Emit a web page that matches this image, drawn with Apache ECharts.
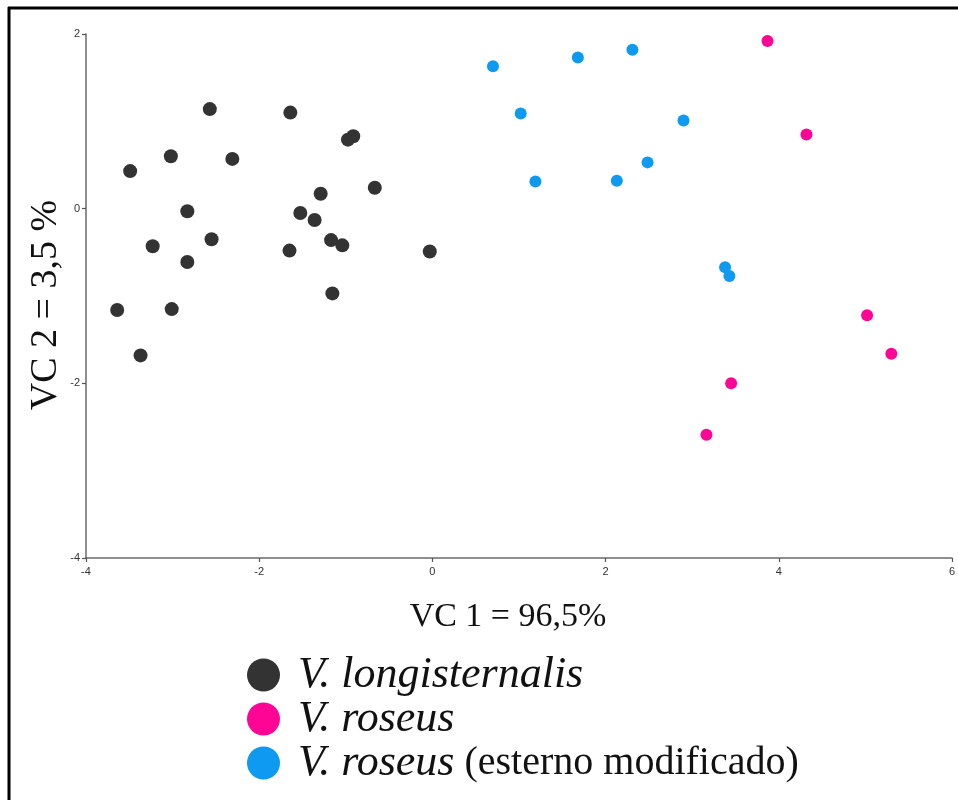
<!DOCTYPE html>
<html>
<head>
<meta charset="utf-8">
<script src="https://cdn.jsdelivr.net/npm/echarts@6/dist/echarts.min.js"></script>
<style>
  html, body { margin: 0; padding: 0; background: #fff; }
  #chart { width: 958px; height: 800px; }
</style>
</head>
<body>
<div id="chart"></div>
<script>
// PCA scores: [VC 1, VC 2] for each specimen
const longisternalis = [
  [-2.57, 1.14], [-1.64, 1.10], [-0.975, 0.79], [-0.914, 0.83], [-3.02, 0.60],
  [-2.31, 0.57], [-3.49, 0.43], [-0.665, 0.24], [-1.29, 0.17], [-2.83, -0.03],
  [-1.525, -0.05], [-1.36, -0.13], [-2.55, -0.35], [-1.17, -0.36], [-1.04, -0.42],
  [-3.23, -0.43], [-1.65, -0.48], [-0.03, -0.49], [-2.83, -0.61], [-1.155, -0.97],
  [-3.64, -1.16], [-3.01, -1.15], [-3.37, -1.68]
];
const roseus = [
  [3.87, 1.92], [4.32, 0.85], [5.02, -1.22], [5.30, -1.66], [3.45, -2.00], [3.165, -2.59]
];
const roseusModificado = [
  [0.70, 1.63], [1.68, 1.73], [2.31, 1.82], [1.02, 1.09], [2.90, 1.01],
  [2.485, 0.53], [1.19, 0.31], [2.13, 0.32], [3.38, -0.67], [3.43, -0.77]
];

const seriesNames = ['V. longisternalis', 'V. roseus', 'V. roseus (esterno modificado)'];
const seriesColors = ['#333333', '#ff0596', '#0d9af0'];
const xAxisTitle = 'VC 1 = 96,5%';
const yAxisTitle = 'VC 2 = 3,5 %';

const chart = echarts.init(document.getElementById('chart'), null, { renderer: 'canvas' });

const serif = '"Liberation Serif", "Times New Roman", serif';

const axisCommon = {
  type: 'value',
  interval: 2,
  axisLine: { show: true, onZero: false, lineStyle: { color: '#6a6a6a', width: 1.5 } },
  axisTick: { show: true, length: 4, lineStyle: { color: '#555', width: 1.2 } },
  splitLine: { show: false },
  axisLabel: { color: '#333', fontSize: 11, fontFamily: 'Liberation Sans, Arial, sans-serif' }
};

chart.setOption({
  animation: false,
  backgroundColor: '#ffffff',
  grid: { left: 86, right: 1, top: 34, bottom: 242, containLabel: false },
  xAxis: Object.assign({}, axisCommon, {
    min: -4, max: 6,
    axisLabel: Object.assign({}, axisCommon.axisLabel, { margin: 8 })
  }),
  yAxis: Object.assign({}, axisCommon, {
    min: -4, max: 2,
    axisLabel: Object.assign({}, axisCommon.axisLabel, { margin: 6 })
  }),
  legend: {
    orient: 'vertical',
    left: 247,
    top: 653,
    height: 147,
    padding: 0,
    icon: 'circle',
    itemWidth: 33,
    itemHeight: 33,
    itemGap: 0,
    data: seriesNames,
    formatter: function (name) {
      if (name === seriesNames[2]) return '{i|V. roseus}{r| (esterno modificado)}';
      return '{i|' + name + '}';
    },
    textStyle: {
      lineHeight: 44,
      padding: [0, 0, 0, 13],
      rich: {
        i: { fontFamily: serif, fontStyle: 'italic', fontSize: 44, lineHeight: 44, color: '#111' },
        r: { fontFamily: serif, fontSize: 40, lineHeight: 44, color: '#111' }
      }
    }
  },
  graphic: [
    // frame lines on the left and top
    { type: 'line', shape: { x1: 9, y1: 7, x2: 9, y2: 800 }, style: { stroke: '#000', lineWidth: 3 } },
    { type: 'line', shape: { x1: 8, y1: 8, x2: 958, y2: 8 }, style: { stroke: '#000', lineWidth: 3 } },
    {
      type: 'text', x: 508, y: 617,
      style: { text: xAxisTitle, font: '34px ' + serif, fill: '#111', align: 'center', verticalAlign: 'middle' }
    },
    {
      type: 'text', x: 46, y: 305, rotation: Math.PI / 2,
      style: { text: yAxisTitle, font: '38px ' + serif, fill: '#111', align: 'center', verticalAlign: 'middle' }
    }
  ],
  series: [
    { name: seriesNames[0], type: 'scatter', data: longisternalis, symbolSize: 14, itemStyle: { color: seriesColors[0], opacity: 1 } },
    { name: seriesNames[1], type: 'scatter', data: roseus, symbolSize: 12, itemStyle: { color: seriesColors[1], opacity: 1 } },
    { name: seriesNames[2], type: 'scatter', data: roseusModificado, symbolSize: 12, itemStyle: { color: seriesColors[2], opacity: 1 } }
  ]
});
</script>
</body>
</html>
